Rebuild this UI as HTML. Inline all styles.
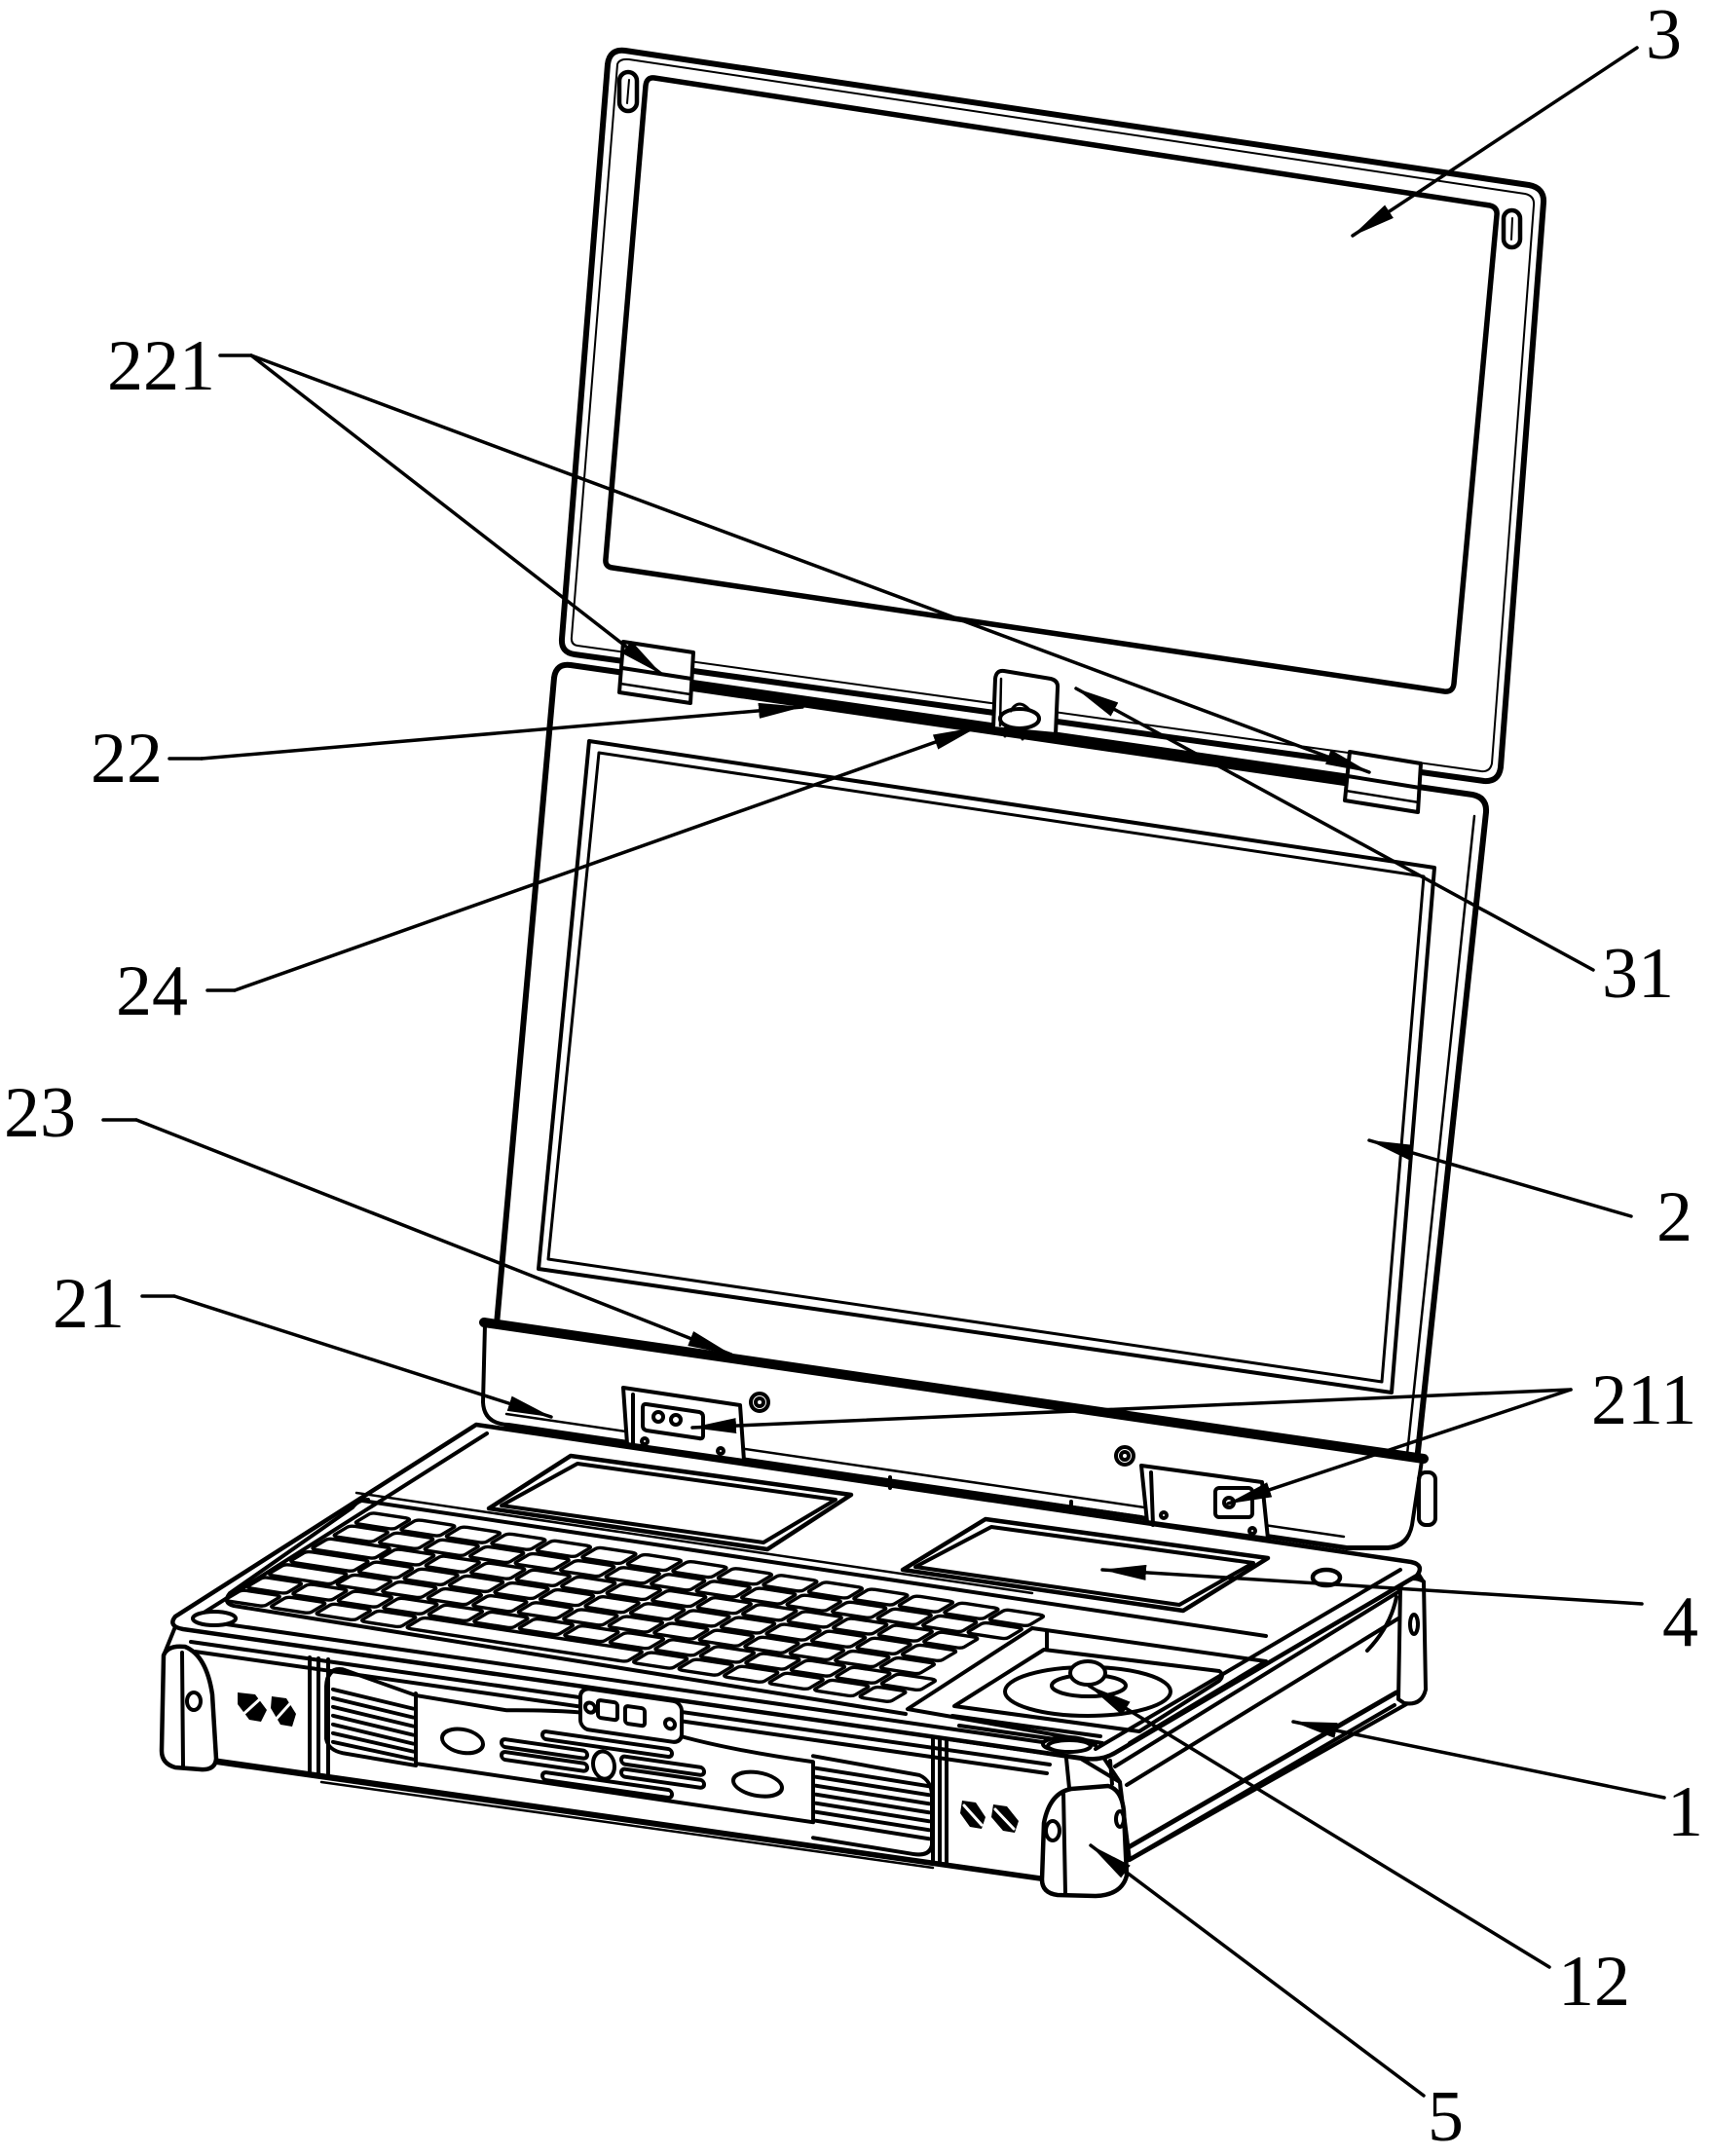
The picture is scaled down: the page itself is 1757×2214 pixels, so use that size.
<!DOCTYPE html>
<html><head><meta charset="utf-8"><style>
html,body{margin:0;padding:0;background:#fff}
svg{display:block}
.s{fill:none;stroke:#000;stroke-width:4;stroke-linejoin:round;stroke-linecap:round}
.w{fill:#fff;stroke:#000;stroke-width:4;stroke-linejoin:round}
.k{fill:#fff;stroke:#000;stroke-width:3.4;vector-effect:non-scaling-stroke}
.f{fill:#000}
.lbl{font-family:"Liberation Serif",serif;font-size:74px;fill:#000}
</style></head><body>
<svg width="1757" height="2214" viewBox="0 0 1757 2214" xmlns="http://www.w3.org/2000/svg">
<defs>
<marker id="ah" markerUnits="userSpaceOnUse" markerWidth="46" markerHeight="16" refX="45" refY="8" orient="auto"><path d="M0,0 L46,8 L0,16 Z" fill="#000"/></marker>
<g id="kr">
<rect class="k" x="0.05" y="0.08" width="0.88" height="0.82" rx="0.12"/><rect class="k" x="1.05" y="0.08" width="0.88" height="0.82" rx="0.12"/><rect class="k" x="2.05" y="0.08" width="0.88" height="0.82" rx="0.12"/><rect class="k" x="3.05" y="0.08" width="0.88" height="0.82" rx="0.12"/><rect class="k" x="4.05" y="0.08" width="0.88" height="0.82" rx="0.12"/><rect class="k" x="5.05" y="0.08" width="0.88" height="0.82" rx="0.12"/><rect class="k" x="6.05" y="0.08" width="0.88" height="0.82" rx="0.12"/><rect class="k" x="7.05" y="0.08" width="0.88" height="0.82" rx="0.12"/><rect class="k" x="8.05" y="0.08" width="0.88" height="0.82" rx="0.12"/><rect class="k" x="9.05" y="0.08" width="0.88" height="0.82" rx="0.12"/><rect class="k" x="10.05" y="0.08" width="0.88" height="0.82" rx="0.12"/><rect class="k" x="11.05" y="0.08" width="0.88" height="0.82" rx="0.12"/><rect class="k" x="12.05" y="0.08" width="0.88" height="0.82" rx="0.12"/><rect class="k" x="13.05" y="0.08" width="0.88" height="0.82" rx="0.12"/><rect class="k" x="14.05" y="0.08" width="0.88" height="0.82" rx="0.12"/>
</g>
<g id="krw">
<rect class="k" x="0.05" y="0.08" width="1.4" height="0.82" rx="0.12"/><rect class="k" x="1.55" y="0.08" width="0.88" height="0.82" rx="0.12"/><rect class="k" x="2.55" y="0.08" width="0.88" height="0.82" rx="0.12"/><rect class="k" x="3.55" y="0.08" width="0.88" height="0.82" rx="0.12"/><rect class="k" x="4.55" y="0.08" width="0.88" height="0.82" rx="0.12"/><rect class="k" x="5.55" y="0.08" width="0.88" height="0.82" rx="0.12"/><rect class="k" x="6.55" y="0.08" width="0.88" height="0.82" rx="0.12"/><rect class="k" x="7.55" y="0.08" width="0.88" height="0.82" rx="0.12"/><rect class="k" x="8.55" y="0.08" width="0.88" height="0.82" rx="0.12"/><rect class="k" x="9.55" y="0.08" width="0.88" height="0.82" rx="0.12"/><rect class="k" x="10.55" y="0.08" width="0.88" height="0.82" rx="0.12"/><rect class="k" x="11.55" y="0.08" width="0.88" height="0.82" rx="0.12"/><rect class="k" x="12.55" y="0.08" width="0.88" height="0.82" rx="0.12"/><rect class="k" x="13.55" y="0.08" width="0.88" height="0.82" rx="0.12"/>
</g>
<g id="kr6">
<rect class="k" x="0.05" y="0.08" width="0.88" height="0.82" rx="0.12"/><rect class="k" x="1.05" y="0.08" width="0.88" height="0.82" rx="0.12"/><rect class="k" x="2.05" y="0.08" width="0.88" height="0.82" rx="0.12"/><rect class="k" x="3.05" y="0.08" width="0.88" height="0.82" rx="0.12"/><rect class="k" x="4.05" y="0.08" width="4.88" height="0.82" rx="0.12"/><rect class="k" x="9.05" y="0.08" width="0.88" height="0.82" rx="0.12"/><rect class="k" x="10.05" y="0.08" width="0.88" height="0.82" rx="0.12"/><rect class="k" x="11.05" y="0.08" width="0.88" height="0.82" rx="0.12"/><rect class="k" x="12.05" y="0.08" width="0.88" height="0.82" rx="0.12"/><rect class="k" x="13.05" y="0.08" width="0.88" height="0.82" rx="0.12"/><rect class="k" x="14.05" y="0.08" width="0.7" height="0.82" rx="0.12"/>
</g>
</defs>

<!-- ===== LID 3 (upper screen) ===== -->
<path class="w" style="stroke-width:6" d="M 624,66 Q 626,50 642,52 L 1570,190 Q 1586,193 1585,208 L 1541,788 Q 1539,803 1524,802 L 590,672 Q 576,670 577,656 Z"/>
<path class="s" style="stroke-width:2" d="M 634,66 Q 636,60 646,61 L 1566,199 Q 1576,201 1575,211 L 1532,784 Q 1530,793 1521,792 L 593,663 Q 586,662 587,654 Z"/>
<path class="s" style="stroke-width:5.5" d="M 672,80 L 1530,211 Q 1538,213 1537,221 L 1493,702 Q 1492,711 1483,710 L 629,583 Q 621,582 622,574 L 663,88 Q 664,79 672,80 Z"/>
<rect class="s" x="636" y="74" width="18" height="40" rx="9" style="stroke-width:4.5"/>
<line class="s" x1="646" y1="82" x2="644" y2="106" style="stroke-width:2"/>
<rect class="s" x="1544" y="216" width="17" height="38" rx="8.5" style="stroke-width:4.5"/>
<line class="s" x1="1553" y1="224" x2="1552" y2="246" style="stroke-width:2"/>

<!-- ===== LID 2 (lower screen) ===== -->
<path class="w" style="stroke-width:6" d="M 510,1360 L 569,696 Q 571,681 586,683 L 1512,816 Q 1527,819 1526,834 L 1448,1566 Q 1446,1587 1425,1589 L 1383,1589 L 520,1463 Z"/>
<path class="s" style="stroke-width:2.5" d="M 1514,838 L 1438,1560"/>
<path class="s" style="stroke-width:10" d="M 712,705 L 1381,802"/>
<path class="s" style="stroke-width:4" d="M 605,761 L 1473,891 L 1429,1430 L 553,1303 Z"/>
<path class="s" style="stroke-width:3" d="M 615,773 L 1462,900 L 1419,1419 L 563,1293 Z"/>
<!-- hinge bar 23 -->
<path class="w" style="stroke-width:4" d="M 498,1360 L 1460,1500 L 1450,1566 Q 1446,1587 1425,1589 L 1383,1589 L 522,1463 Q 497,1462 496,1440 Z"/>
<path class="s" style="stroke-width:10" d="M 497,1358 L 1462,1498"/>
<path class="s" style="stroke-width:2.5" d="M 520,1452 L 1380,1578"/>
<rect class="s" x="1457" y="1512" width="17" height="54" rx="7" style="stroke-width:4"/>

<!-- hinges 221 -->
<path class="w" d="M 640,659 L 712,670 L 709,722 L 636,711 Z"/>
<path class="s" d="M 639,686 L 710,697"/>
<path class="s" style="stroke-width:2.5" d="M 637,702 L 709,713"/>
<path class="w" d="M 1386,772 L 1459,784 L 1456,834 L 1381,822 Z"/>
<path class="s" d="M 1384,797 L 1458,809"/>
<path class="s" style="stroke-width:2.5" d="M 1382,812 L 1457,824"/>
<!-- center tab 31 and knob 24 -->
<path class="w" d="M 1020,748 L 1022,697 Q 1023,688 1031,689 L 1079,697 Q 1087,699 1086,707 L 1084,754 Z"/>
<line class="s" x1="1028" y1="697" x2="1027" y2="745" style="stroke-width:2.5"/>
<ellipse class="w" cx="1047" cy="738" rx="20" ry="10"/>
<path class="s" style="stroke-width:3" d="M 1038,730 Q 1046,716 1058,730"/>
<path class="s" style="stroke-width:3" d="M 1032,748 L 1032,756 M 1050,751 L 1050,759 M 1064,752 L 1064,758"/>

<!-- ===== BASE ===== -->
<!-- side face -->
<path class="w" d="M 1132,1803 L 1451,1607 L 1462,1625 L 1462,1740 L 1160,1910 L 1150,1830 Z"/>
<path class="s" d="M 1145,1814 L 1455,1623"/>
<path class="s" d="M 1157,1833 L 1436,1662"/>
<path class="s" style="stroke-width:5" d="M 1157,1898 L 1434,1738"/>
<path class="s" d="M 1157,1911 L 1432,1751"/>
<path class="s" d="M 1404,1695 Q 1428,1670 1434,1640"/>
<!-- rear right bumper -->
<path class="w" d="M 1438,1630 Q 1446,1616 1462,1624 L 1464,1735 Q 1460,1752 1442,1749 L 1436,1745 Z"/>
<ellipse class="s" cx="1452" cy="1668" rx="4" ry="10"/>
<!-- front face -->
<path class="w" d="M 181,1668 L 1110,1806 L 1150,1830 L 1157,1925 L 1070,1930 L 222,1810 L 168,1700 Z"/>
<path class="s" d="M 196,1686 L 1078,1812"/>
<path class="s" d="M 200,1696 L 1075,1821"/>
<path class="s" style="stroke-width:5" d="M 222,1808 L 1070,1929"/>
<path class="s" style="stroke-width:2.5" d="M 330,1830 L 958,1918"/>
<path class="s" d="M 318,1702 L 318,1822 M 327,1703 L 327,1823 M 337,1704 L 337,1825"/>
<path class="s" d="M 958,1786 L 958,1913 M 965,1787 L 965,1914 M 972,1788 L 972,1915"/>
<!-- skewed front-face details -->
<g transform="skewY(8.13)">
 <path class="s" d="M 427,1680 L 352,1664 Q 336,1664 335,1684 L 335,1738 Q 337,1749 352,1750 L 427,1752"/>
 <path class="s" d="M 342,1686 L 424,1694 M 342,1695 L 424,1703 M 342,1704 L 424,1712 M 342,1713 L 424,1721 M 342,1722 L 424,1730 M 342,1731 L 424,1738 M 342,1740 L 424,1746"/>
 <path class="s" d="M 427,1678 L 427,1750 L 835,1752 L 835,1690 C 760,1690 700,1686 660,1676 C 620,1668 560,1676 520,1682 L 427,1680"/>
 <path class="s" d="M 835,1684 L 944,1688 Q 957,1692 957,1708 L 957,1758 Q 955,1770 938,1770 L 835,1768"/>
 <path class="s" d="M 838,1696 L 954,1698 M 838,1705 L 954,1707 M 838,1714 L 954,1716 M 838,1723 L 954,1725 M 838,1732 L 954,1734 M 838,1741 L 954,1743 M 838,1750 L 954,1752"/>
 <rect class="w" x="596" y="1648" width="104" height="42" rx="9"/>
 <rect class="s" x="614" y="1658" width="20" height="18" rx="3"/>
 <rect class="s" x="642" y="1660" width="20" height="18" rx="3"/>
 <circle class="s" cx="606" cy="1667" r="5"/>
 <circle class="s" cx="688" cy="1672" r="5"/>
 <ellipse class="s" cx="475" cy="1720" rx="21" ry="12"/>
 <ellipse class="s" cx="778" cy="1721" rx="25" ry="12"/>
 <ellipse class="s" cx="620" cy="1724" rx="11" ry="14"/>
 <rect class="s" x="557" y="1698" width="133" height="8" rx="4"/>
 <rect class="s" x="515" y="1712" width="88" height="8" rx="4"/>
 <rect class="s" x="515" y="1725" width="88" height="8" rx="4"/>
 <rect class="s" x="557" y="1740" width="133" height="8" rx="4"/>
 <rect class="s" x="638" y="1712" width="85" height="8" rx="4"/>
 <rect class="s" x="638" y="1725" width="85" height="8" rx="4"/>
</g>
<!-- speaker marks -->
<path class="f" d="M 244,1738 L 262,1740 L 274,1756 L 268,1768 L 256,1766 L 244,1750 Z"/>
<path class="f" d="M 279,1742 L 294,1744 L 304,1760 L 300,1773 L 288,1771 L 278,1754 Z"/>
<path class="s" style="stroke:#fff;stroke-width:3" d="M 248,1762 L 270,1742 M 282,1767 L 300,1747"/>
<path class="f" d="M 988,1849 L 1002,1851 L 1012,1866 L 1008,1878 L 996,1876 L 986,1862 Z"/>
<path class="f" d="M 1020,1853 L 1034,1855 L 1046,1870 L 1042,1882 L 1030,1880 L 1018,1866 Z"/>
<path class="s" style="stroke:#fff;stroke-width:3" d="M 990,1854 L 1008,1874 M 1022,1858 L 1041,1878"/>
<!-- left bumper -->
<path class="w" style="stroke-width:4.5" d="M 168,1700 Q 172,1689 190,1691 Q 212,1700 218,1740 L 222,1806 Q 221,1818 206,1817 L 180,1815 Q 166,1811 166,1798 Z"/>
<path class="s" d="M 187,1697 L 188,1814"/>
<ellipse class="s" cx="199" cy="1747" rx="7" ry="9"/>
<!-- right front bumper -->
<path class="w" style="stroke-width:4.5" d="M 1072,1872 Q 1078,1841 1100,1837 L 1138,1834 Q 1152,1838 1154,1860 L 1157,1926 Q 1152,1946 1125,1947 L 1086,1946 Q 1070,1944 1070,1930 Z"/>
<path class="s" d="M 1092,1840 L 1094,1944"/>
<ellipse class="s" cx="1081" cy="1880" rx="7" ry="10"/>
<ellipse class="s" cx="1150" cy="1868" rx="4" ry="8"/>
<path class="s" d="M 1095,1806 L 1098,1836 M 1140,1808 L 1142,1832"/>

<!-- deck (top surface) -->
<path class="w" style="stroke-width:4.5" d="M 489,1463 L 1449,1604 Q 1463,1607 1455,1618 L 1145,1800 Q 1132,1808 1115,1806 L 188,1673 Q 172,1670 180,1660 Z"/>
<path class="s" d="M 500,1472 L 203,1660"/>
<path class="s" d="M 205,1664 L 1112,1795"/>
<path class="s" d="M 1125,1796 L 1438,1612"/>
<ellipse class="w" cx="220" cy="1662" rx="22" ry="7"/>
<ellipse class="w" cx="1095" cy="1791" rx="24" ry="7"/>
<!-- keyboard bezel -->
<path class="s" d="M 372,1541 L 1300,1680"/>
<path class="s" d="M 378,1540 Q 368,1540 362,1548 L 236,1636 Q 228,1646 240,1649 L 930,1760"/>
<path class="s" style="stroke-width:2.5" d="M 366,1533 L 1060,1636"/>
<!-- keys -->
<g transform="matrix(46.5 7.1 -22.2 13.2 381 1552)">
 <use href="#kr" x="0" y="0"/>
 <use href="#kr" x="0" y="1"/>
 <use href="#krw" x="0" y="2"/>
 <use href="#krw" x="0" y="3"/>
 <use href="#krw" x="0" y="4"/>
 <use href="#kr" x="0" y="5"/>
 <use href="#kr6" x="0" y="6"/>
</g>
<!-- left panel -->
<path class="s" style="stroke-width:4.5" d="M 586,1495 L 874,1535 L 788,1591 L 502,1549 Z"/>
<path class="s" d="M 593,1503 L 858,1540 L 784,1584 L 515,1546 Z"/>
<!-- right panel -->
<path class="s" style="stroke-width:4.5" d="M 1012,1560 L 1302,1600 L 1215,1654 L 927,1612 Z"/>
<path class="s" d="M 1018,1568 L 1287,1605 L 1211,1648 L 940,1609 Z"/>
<ellipse class="s" cx="1362" cy="1620" rx="14" ry="8" style="stroke-width:4.5"/>
<!-- trackball housing -->
<path class="s" d="M 1060,1672 L 932,1755 L 1132,1790"/>
<path class="s" d="M 1060,1672 L 1300,1706 L 1160,1790"/>
<path class="s" d="M 1072,1694 L 1252,1716 Q 1258,1720 1252,1726 L 1170,1778 L 980,1752 Z"/>
<path class="s" d="M 1075,1676 L 1075,1694"/>
<ellipse class="s" cx="1117" cy="1737" rx="85" ry="25"/>
<ellipse class="w" cx="1118" cy="1731" rx="38" ry="11"/>
<ellipse class="w" cx="1117" cy="1718" rx="18" ry="12"/>
<path class="s" d="M 978,1762 L 1130,1783 M 985,1772 L 1125,1792"/>
<ellipse class="w" cx="1098" cy="1793" rx="22" ry="6"/>
<!-- hinges 211 + screws -->
<path class="w" d="M 640,1425 L 760,1443 L 764,1500 L 644,1483 Z"/>
<path class="s" d="M 650,1432 L 650,1486"/>
<path class="s" d="M 664,1442 L 718,1450 Q 722,1451 722,1455 L 722,1474 Q 722,1478 718,1477 L 664,1469 Q 660,1468 660,1464 L 660,1446 Q 660,1441 664,1442 Z"/>
<circle class="s" cx="676" cy="1455" r="5"/>
<circle class="s" cx="694" cy="1458" r="5"/>
<circle class="s" cx="662" cy="1480" r="3"/>
<circle class="s" cx="740" cy="1490" r="3"/>
<circle class="s" cx="780" cy="1440" r="9"/>
<circle class="s" cx="780" cy="1440" r="4"/>
<path class="w" d="M 1172,1505 L 1296,1522 L 1302,1580 L 1178,1563 Z"/>
<path class="s" d="M 1182,1512 L 1184,1566"/>
<rect class="s" x="1248" y="1528" width="38" height="30" rx="4"/>
<circle class="s" cx="1262" cy="1543" r="5"/>
<circle class="s" cx="1195" cy="1556" r="3"/>
<circle class="s" cx="1286" cy="1572" r="3"/>
<circle class="s" cx="1155" cy="1495" r="9"/>
<circle class="s" cx="1155" cy="1495" r="4"/>
<path class="s" d="M 766,1500 L 1172,1558 M 914,1517 L 914,1528 M 1100,1542 L 1100,1553"/>

<!-- ===== LEADERS ===== -->
<g class="s" style="stroke-width:3.5" marker-end="url(#ah)">
 <path d="M 1681,49 L 1389,242"/>
 <path d="M 258,365 L 679,692"/>
 <path d="M 258,365 L 1406,793"/>
 <path d="M 207,779 L 824,726"/>
 <path d="M 241,1017 L 1003,747"/>
 <path d="M 1636,996 L 1105,707"/>
 <path d="M 140,1150 L 751,1391"/>
 <path d="M 1675,1249 L 1406,1171"/>
 <path d="M 179,1331 L 566,1455"/>
 <path d="M 1613,1427 L 711,1466"/>
 <path d="M 1613,1427 L 1261,1544"/>
 <path d="M 1686,1647 L 1132,1612"/>
 <path d="M 1709,1846 L 1328,1768"/>
 <path d="M 1591,2020 L 1118,1731"/>
 <path d="M 1462,2152 L 1120,1895"/>
</g>
<g class="s" style="stroke-width:3.5">
 <path d="M 226,365 L 258,365"/>
 <path d="M 174,779 L 207,779"/>
 <path d="M 213,1017 L 241,1017"/>
 <path d="M 106,1150 L 140,1150"/>
 <path d="M 146,1331 L 179,1331"/>
</g>
<!-- ===== LABELS ===== -->
<text class="lbl" x="1690" y="60">3</text>
<text class="lbl" x="110" y="400">221</text>
<text class="lbl" x="93" y="803">22</text>
<text class="lbl" x="119" y="1042">24</text>
<text class="lbl" x="1645" y="1024">31</text>
<text class="lbl" x="4" y="1167">23</text>
<text class="lbl" x="1701" y="1274">2</text>
<text class="lbl" x="54" y="1363">21</text>
<text class="lbl" x="1634" y="1462">211</text>
<text class="lbl" x="1707" y="1690">4</text>
<text class="lbl" x="1712" y="1885">1</text>
<text class="lbl" x="1600" y="2059">12</text>
<text class="lbl" x="1466" y="2198">5</text>
</svg>
</body></html>
